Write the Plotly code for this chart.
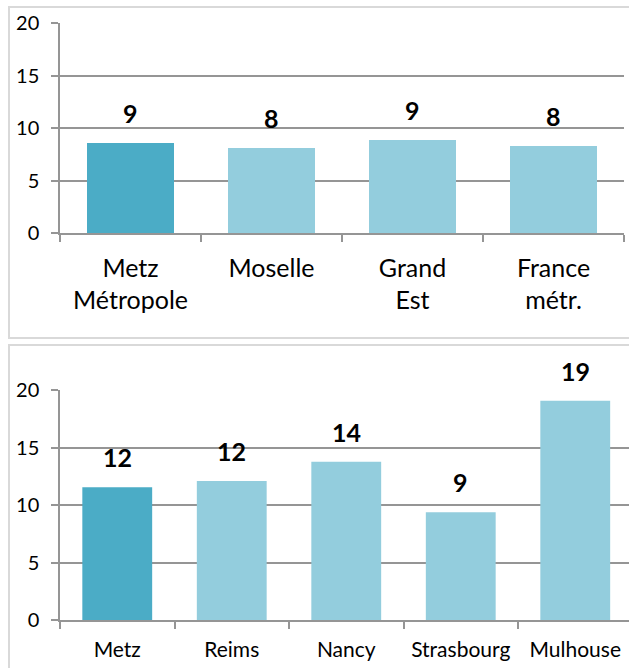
import plotly.graph_objects as go

W, H = 629, 668

# ---- data ----
top_categories = ["Metz<br>Métropole", "Moselle", "Grand<br>Est", "France<br>métr."]
top_values = [8.57, 8.09, 8.85, 8.28]
top_labels = ["9", "8", "9", "8"]

bottom_categories = ["Metz", "Reims", "Nancy", "Strasbourg", "Mulhouse"]
bottom_values = [11.54, 12.08, 13.77, 9.37, 19.07]
bottom_labels = ["12", "12", "14", "9", "19"]

y_ticks = [0, 5, 10, 15, 20]

# ---- style ----
DARK = "#4BACC6"
LIGHT = "#93CDDD"
GRID = "#959595"
FRAME = "#d9d9d9"
FONT = "Lato"


def px_x(p):
    return p / W


def px_y(p):
    return (H - p) / H


def colors(n):
    return [DARK] + [LIGHT] * (n - 1)


fig = go.Figure()
fig.add_trace(go.Bar(x=top_categories, y=top_values, width=0.617,
                     marker=dict(color=colors(len(top_values)), line=dict(width=0)),
                     xaxis="x", yaxis="y", hoverinfo="skip"))
fig.add_trace(go.Bar(x=bottom_categories, y=bottom_values, width=0.61,
                     marker=dict(color=colors(len(bottom_values)), line=dict(width=0)),
                     xaxis="x2", yaxis="y2", hoverinfo="skip"))

annotations = []
for cats, vals, labs, xr, yr in [(top_categories, top_values, top_labels, "x", "y"),
                                 (bottom_categories, bottom_values, bottom_labels, "x2", "y2")]:
    for c, v, t in zip(cats, vals, labs):
        annotations.append(dict(x=c, y=v, xref=xr, yref=yr, text=f"<b>{t}</b>",
                                showarrow=False, yanchor="bottom", yshift=13,
                                font=dict(family=FONT, size=25, color="black")))

axis_common_x = dict(type="category", ticks="outside", tickson="boundaries", ticklen=7,
                     tickwidth=1.5, tickcolor=GRID, showline=True, linecolor=GRID,
                     linewidth=1.5, showgrid=False, zeroline=False, fixedrange=True,
                     automargin=False)
axis_common_y = dict(range=[0, 20], tickvals=y_ticks, ticks="outside", ticklen=7,
                     tickwidth=1.5, tickcolor=GRID, showline=True, linecolor=GRID,
                     linewidth=1.5, showgrid=True, gridcolor=GRID, gridwidth=1.5,
                     zeroline=False, ticklabelstandoff=8, automargin=False,
                     tickfont=dict(family=FONT, size=20, color="black"))

fig.update_layout(
    width=W, height=H, margin=dict(l=0, r=0, t=0, b=0, autoexpand=False),
    paper_bgcolor="white", plot_bgcolor="white", showlegend=False, bargap=0.3,
    font=dict(family=FONT, color="black"),
    xaxis=dict(domain=[px_x(60), px_x(624)], anchor="y", range=[-0.5, 3.5],
               ticklabelstandoff=12,
               tickfont=dict(family=FONT, size=25, color="black"), **axis_common_x),
    yaxis=dict(domain=[px_y(233), px_y(23)], anchor="x", **axis_common_y),
    xaxis2=dict(domain=[px_x(60), 1.0], anchor="y2", range=[-0.5, -0.5 + 569 / 114.5],
                ticklabelstandoff=10,
                tickfont=dict(family=FONT, size=21, color="black"), **axis_common_x),
    yaxis2=dict(domain=[px_y(620), px_y(390)], anchor="x2", **axis_common_y),
    annotations=annotations,
    shapes=[
        dict(type="rect", xref="paper", yref="paper", x0=px_x(9), x1=1.02,
             y0=px_y(338), y1=px_y(7), line=dict(color=FRAME, width=2), layer="below"),
        dict(type="rect", xref="paper", yref="paper", x0=px_x(9), x1=1.02,
             y0=-0.02, y1=px_y(345), line=dict(color=FRAME, width=2), layer="below"),
    ],
)

fig.write_html("out.html", config={"displayModeBar": False},
               post_script="document.body.style.margin='0';document.body.style.overflow='hidden';")
